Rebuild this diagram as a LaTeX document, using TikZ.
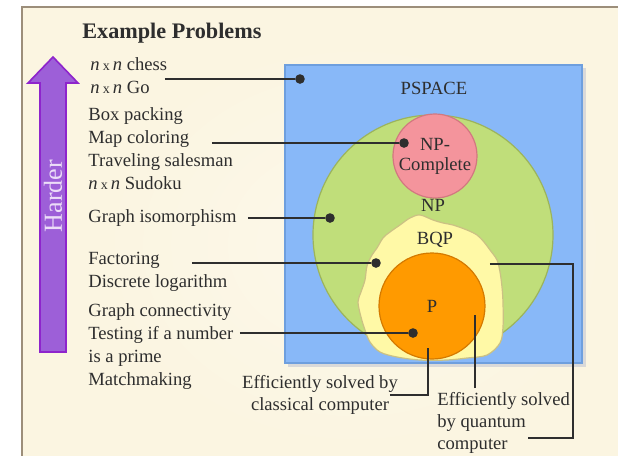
\documentclass[tikz,border=0pt]{standalone}
\usepackage{fontspec}
\setmainfont{Liberation Serif}
\usepackage{tikz}
\usetikzlibrary{arrows.meta}
\definecolor{paper}{HTML}{FBF5E1}
\definecolor{frame}{HTML}{9C8E7A}
\definecolor{ink}{HTML}{2E2E2E}
\definecolor{spacefill}{HTML}{88B8F8}
\definecolor{spaceline}{HTML}{6E9FDE}
\definecolor{npfill}{HTML}{C0DE7A}
\definecolor{npline}{HTML}{9CB45C}
\definecolor{npcfill}{HTML}{F4949C}
\definecolor{npcline}{HTML}{D27880}
\definecolor{bqpfill}{HTML}{FFF9A6}
\definecolor{bqpline}{HTML}{CBC184}
\definecolor{pfill}{HTML}{FF9A00}
\definecolor{pline}{HTML}{D47A00}
\definecolor{harderfill}{HTML}{9D5FD8}
\definecolor{harderline}{HTML}{8E24CC}
\definecolor{hardertext}{HTML}{ECDDF8}
\tikzset{
    prob/.style={anchor=base west, inner sep=0pt, text=ink}, % problem names on the left
    note/.style={anchor=base, inner sep=0pt, text=ink}, % notes under the sets
    cls/.style={circle, draw, line width=0.6pt, inner sep=0pt, align=center, text=ink}, % complexity classes
    link/.style={draw=ink, line width=1pt}, % connectors
    dot/.style={circle, fill=ink, inner sep=1.7pt} % connector ends
}
\newcommand{\nxn}{\textit{n}\,{\scriptsize x}\,\textit{n}}

\begin{document}
\begin{tikzpicture}[x=0.5pt, y=-0.5pt, font=\fontsize{9.3}{11}\selectfont]
    \useasboundingbox (0,0) rectangle (618,456);

    % panel
    \fill[paper] (22,7) rectangle (618,456);
    \shade[inner color=paper!70!white, outer color=paper] (100,40) rectangle (610,450);
    \draw[frame, line width=1pt] (22,456) -- (22,7) -- (618,7);

    \node[anchor=base west, inner sep=0pt, text=ink, font=\fontsize{11.1}{13}\selectfont\bfseries] (title) at (82,38) {Example Problems};

    % harder arrow
    \filldraw[fill=harderfill, draw=harderline, line width=0.8pt]
        (40,352) -- (40,83) -- (28,83) -- (53,57) -- (78,83) -- (66,83) -- (66,352) -- cycle;
    \node[rotate=90, text=hardertext, font=\fontsize{13}{13}\selectfont] (harder) at (53,196) {Harder};

    % problems
    \foreach \t [count=\i from 0] in {{\nxn{} chess}, {\nxn{} Go}}
        \node[prob] (game\i) at (90,70+23*\i) {\t};
    \foreach \t [count=\i from 0] in {Box packing, Map coloring, Traveling salesman, {\nxn{} Sudoku}}
        \node[prob] (npc\i) at (88,120+23*\i) {\t};
    \node[prob] (iso) at (88,222) {Graph isomorphism};
    \foreach \t [count=\i from 0] in {Factoring, Discrete logarithm}
        \node[prob] (fac\i) at (88,264+23*\i) {\t};
    \foreach \t [count=\i from 0] in {Graph connectivity, Testing if a number, is a prime, Matchmaking}
        \node[prob] (easy\i) at (88,316+23*\i) {\t};

    % classes
    \fill[gray!30] (288,68) rectangle (586,367);
    \filldraw[fill=spacefill, draw=spaceline, line width=0.6pt] (285,65) rectangle (582,363);
    \node[text=ink] (pspace) at (434,88) {PSPACE};
    \node[cls, fill=npfill, draw=npline, minimum size=120pt] (np) at (433,235) {};
    \node[cls, fill=npcfill, draw=npcline, minimum size=42pt] (npc) at (435,156) {NP-\\[-1pt]Complete};
    \node[text=ink] (nplabel) at (433,205) {NP};
    \filldraw[fill=bqpfill, draw=bqpline, line width=0.6pt] plot[smooth cycle, tension=0.55] coordinates {
        (420,215) (433,220) (443,223) (453,225) (467,230) (477,235) (484,242) (490,250) (497,260)
        (500,272) (502,287) (503,303) (503,327) (500,343) (487,355) (467,358) (447,360) (420,360)
        (397,357) (380,352) (370,342) (365,330) (361,317) (358,302) (361,292) (365,280) (367,266)
        (372,255) (377,248) (383,238) (390,232) (400,225) (410,218)};
    \node[text=ink] (bqp) at (435,240) {BQP};
    \node[cls, fill=pfill, draw=pline, minimum size=53pt] (p) at (432,306) {P};

    % connector ends
    \node[dot] (dgame) at (300,79) {};
    \node[dot] (dnpc) at (404,143) {};
    \node[dot] (dnp) at (330,218) {};
    \node[dot] (dbqp) at (376,263) {};
    \node[dot] (dp) at (413,333) {};
    \coordinate (sgame) at (165,79);
    \coordinate (snpc) at (212,143);
    \coordinate (snp) at (248,218);
    \coordinate (sbqp) at (192,263);
    \coordinate (sp) at (240,333);
    \foreach \n in {game, npc, np, bqp, p}
        \draw[link] (s\n) -- (d\n);

    % notes
    \foreach \t [count=\i from 0] in {Efficiently solved by, classical computer}
        \node[note] (classic\i) at (320,388+22*\i) {\t};
    \foreach \t [count=\i from 0] in {Efficiently solved, by quantum, computer}
        \node[prob] (quantum\i) at (437,405+22*\i) {\t};
    \coordinate (cfrom) at (390,395);
    \coordinate (cto) at (428,348);
    \coordinate (qfrom) at (475,388);
    \coordinate (qto) at (475,315);
    \coordinate (bfrom) at (490,264);
    \coordinate (bturn) at (573,438);
    \coordinate (bto) at (528,438);
    \draw[link] (cfrom) -| (cto);
    \draw[link] (qfrom) -- (qto);
    \draw[link] (bfrom) -| (bturn) -- (bto);
\end{tikzpicture}
\end{document}
